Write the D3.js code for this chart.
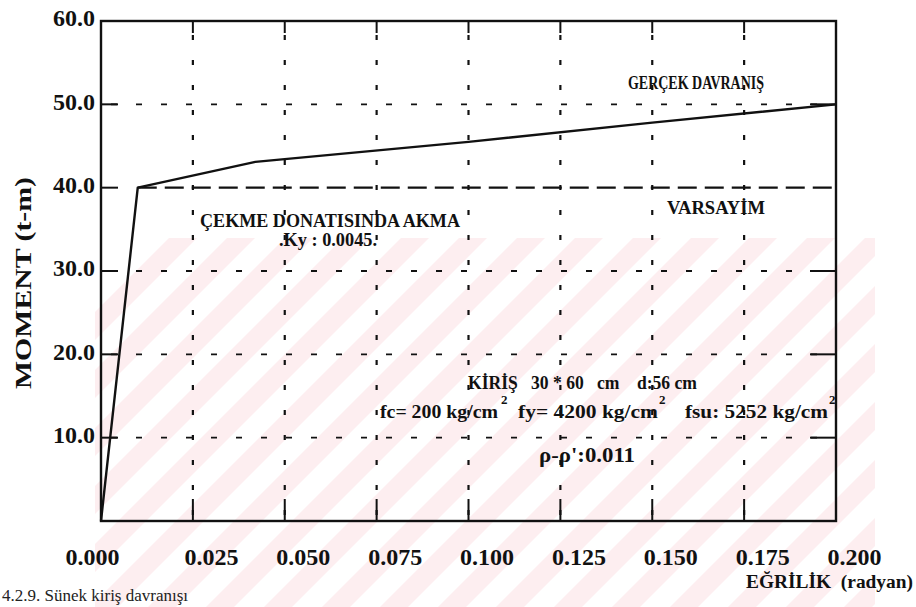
<!DOCTYPE html>
<html lang="tr">
<head>
<meta charset="UTF-8">
<title>Moment - Eğrilik</title>
<script src="https://d3js.org/d3.v7.min.js"></script>
<style>
  body { margin: 0; background: #fff; overflow: hidden; }
  svg { display: block; font-family: "Liberation Serif", "DejaVu Serif", serif; }
  .axis text { font-family: "Liberation Serif", serif; font-weight: bold; font-size: 24px; fill: #111; }
  .lbl { font-weight: bold; fill: #111; white-space: pre; }
</style>
</head>
<body>
<svg id="chart" width="916" height="607"></svg>
<script>
// values
const xTicks = [0, 0.025, 0.05, 0.075, 0.1, 0.125, 0.15, 0.175, 0.2];
const yTicks = [10, 20, 30, 40, 50, 60];
const gridX = [0.025, 0.05, 0.075, 0.1, 0.125, 0.15, 0.175];
const gridY = [10, 20, 30, 50];
// gerçek davranış (real behaviour)
const realCurve = [[0, 0], [0.01, 40], [0.042, 43.1], [0.1, 45.5], [0.15, 47.8], [0.2, 50]];
// varsayım (idealised)
const assumedCurve = [[0.01, 40], [0.2, 40]];

const svg = d3.select("#chart");
const m = { left: 101, right: 836, top: 21, bottom: 521 };

const x = d3.scaleLinear().domain([0, 0.2]).range([m.left, m.right]);
const y = d3.scaleLinear().domain([0, 60]).range([m.bottom, m.top]);

// faint watermark stripes in the background
const wm = svg.append("g");
wm.append("clipPath").attr("id", "wmclip")
  .append("rect").attr("x", 95).attr("y", 238).attr("width", 780).attr("height", 380);
const stripes = d3.range(-200, 1600, 58);
wm.append("g").attr("clip-path", "url(#wmclip)")
  .selectAll("path").data(stripes).join("path")
  .attr("d", c => `M${c},607 L${c + 28},607 L${c + 28 + 400},207 L${c + 400},207 Z`)
  .attr("fill", "#fdeef0");

// dashed grid
svg.append("g").selectAll("line").data(gridX).join("line")
  .attr("x1", d => x(d)).attr("x2", d => x(d))
  .attr("y1", m.top).attr("y2", m.bottom)
  .attr("stroke", "#111").attr("stroke-width", 2.2)
  .attr("stroke-dasharray", "5,20").attr("stroke-dashoffset", -14);

svg.append("g").selectAll("line").data(gridY).join("line")
  .attr("x1", m.left).attr("x2", m.right)
  .attr("y1", d => y(d)).attr("y2", d => y(d))
  .attr("stroke", "#111").attr("stroke-width", 1.8)
  .attr("stroke-dasharray", "6,19").attr("stroke-dashoffset", -10);

// solid ticks on the frame
const tk = svg.append("g").attr("stroke", "#111").attr("stroke-width", 2);
tk.selectAll(".tb").data(gridX).join("line")
  .attr("x1", d => x(d)).attr("x2", d => x(d)).attr("y1", m.bottom).attr("y2", m.bottom - 22);
tk.selectAll(".tt").data(gridX).join("line")
  .attr("x1", d => x(d)).attr("x2", d => x(d)).attr("y1", m.top).attr("y2", m.top + 12);
tk.selectAll(".tl").data(yTicks.slice(0, -1)).join("line")
  .attr("x1", m.left).attr("x2", m.left + 17).attr("y1", d => y(d)).attr("y2", d => y(d));
tk.selectAll(".tr").data(gridY).join("line")
  .attr("x1", m.right).attr("x2", m.right - 26).attr("y1", d => y(d)).attr("y2", d => y(d));

// frame
svg.append("rect")
  .attr("x", m.left).attr("y", m.top)
  .attr("width", m.right - m.left).attr("height", m.bottom - m.top)
  .attr("fill", "none").attr("stroke", "#111").attr("stroke-width", 2.4);

// axes (labels only)
const xAxis = svg.append("g").attr("class", "axis")
  .attr("transform", `translate(0,${m.bottom})`)
  .call(d3.axisBottom(x).tickValues(xTicks).tickSize(0).tickPadding(27).tickFormat(d3.format(".3f")));
xAxis.select(".domain").remove();
xAxis.selectAll("text").attr("dx", (d, i) => i === 0 ? -9 : 18);

const yAxis = svg.append("g").attr("class", "axis")
  .attr("transform", `translate(${m.left},0)`)
  .call(d3.axisLeft(y).tickValues(yTicks).tickSize(0).tickPadding(6).tickFormat(d3.format(".1f")));
yAxis.select(".domain").remove();
yAxis.selectAll("text").attr("dy", "0.2em");

// curves
const line = d3.line().x(d => x(d[0])).y(d => y(d[1]));
svg.append("path").datum(assumedCurve).attr("d", line)
  .attr("fill", "none").attr("stroke", "#111").attr("stroke-width", 2.2)
  .attr("stroke-dasharray", "19,8");
svg.append("path").datum(realCurve).attr("d", line)
  .attr("fill", "none").attr("stroke", "#111").attr("stroke-width", 2.4)
  .attr("stroke-linejoin", "round");

// annotations
function label(t, px, py, size, len, anchor) {
  const el = svg.append("text").attr("class", "lbl")
    .attr("x", px).attr("y", py).attr("font-size", size)
    .attr("text-anchor", anchor || "start").text(t);
  if (len) el.attr("textLength", len).attr("lengthAdjust", "spacingAndGlyphs");
  return el;
}
label("GERÇEK DAVRANIŞ", 628, 89, 18, 136);
label("VARSAYİM", 667, 214, 18, 98);
label("ÇEKME DONATISINDA AKMA", 200, 227, 18, 260);
label(".Ky : 0.0045.", 279, 246, 18, 98);

label("KİRİŞ   30 * 60   cm    d:56 cm", 468, 389, 18, 229);
label("fc= 200 kg/cm", 380, 418, 19, 118);
label("2", 501, 404, 13);
label("fy= 4200 kg/cm", 518, 418, 19, 140);
label("2", 659, 404, 13);
label("fsu: 5252 kg/cm", 685, 418, 19, 143);
label("2", 829, 404, 13);
label("ρ-ρ':0.011", 539, 462, 20, 96);

label("EĞRİLİK  (radyan)", 913, 588, 18, 167, "end");

svg.append("text").attr("class", "lbl")
  .attr("transform", "translate(31,283) rotate(-90)")
  .attr("text-anchor", "middle").attr("font-size", 24)
  .attr("textLength", 212).attr("lengthAdjust", "spacingAndGlyphs")
  .text("MOMENT (t-m)");

// caption at the page edge
svg.append("text").attr("x", 2).attr("y", 601)
  .attr("font-size", 17).attr("fill", "#222")
  .text("4.2.9. Sünek kiriş davranışı");
</script>
</body>
</html>
